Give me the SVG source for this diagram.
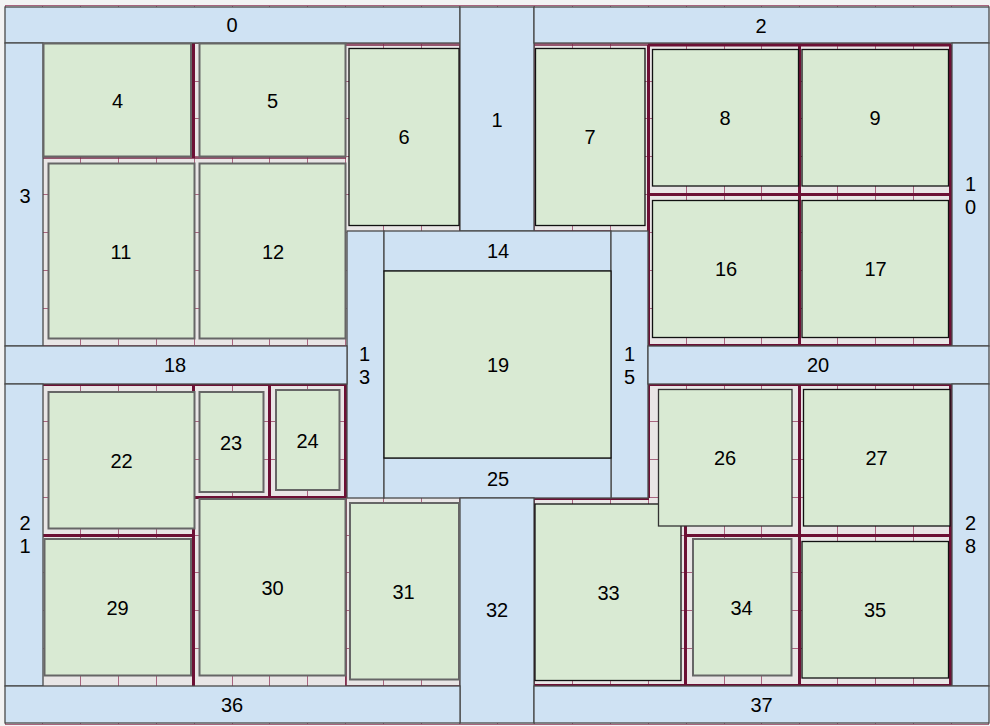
<svg xmlns="http://www.w3.org/2000/svg" width="990" height="726" viewBox="0 0 990 726">
<style>
.bg{fill:#e9e6e6}
.grid{fill:none;stroke:#a8657f;stroke-width:1}
.thick{fill:none;stroke:#6d1035;stroke-width:3}
.mid{fill:none;stroke:#7a2445;stroke-width:1.6}
.cor{fill:#cfe2f3;stroke:#4a4a4a;stroke-width:1.3}
.room{fill:#d9ead3;stroke:#111;stroke-width:1.3}
.roomg{fill:#d9ead3;stroke:#666;stroke-width:2}
text{font-family:"Liberation Sans",Arial,sans-serif;font-size:20px;fill:#000;text-anchor:middle}
</style>
<rect x="0" y="0" width="990" height="726" fill="#f3f3f3"/>
<rect class="bg" x="5" y="5" width="984" height="720"/>
<path class="grid" d="M5.5 5.5V724.5M42.5 5.5V724.5M80.5 5.5V724.5M118.5 5.5V724.5M156.5 5.5V724.5M194.5 5.5V724.5M232.5 5.5V724.5M269.5 5.5V724.5M307.5 5.5V724.5M345.5 5.5V724.5M383.5 5.5V724.5M421.5 5.5V724.5M459.5 5.5V724.5M497.5 5.5V724.5M534.5 5.5V724.5M572.5 5.5V724.5M610.5 5.5V724.5M648.5 5.5V724.5M686.5 5.5V724.5M724.5 5.5V724.5M761.5 5.5V724.5M799.5 5.5V724.5M837.5 5.5V724.5M875.5 5.5V724.5M913.5 5.5V724.5M951.5 5.5V724.5M988.5 5.5V724.5M5 5.5H989M5 43.5H989M5 81.5H989M5 118.5H989M5 156.5H989M5 194.5H989M5 232.5H989M5 270.5H989M5 308.5H989M5 345.5H989M5 383.5H989M5 421.5H989M5 459.5H989M5 497.5H989M5 535.5H989M5 572.5H989M5 610.5H989M5 648.5H989M5 686.5H989M5 724.5H989"/>
<path class="mid" d="M43 158H346M346 45H460V231M534 45H648M534 231H611M346 498V686H460M534 498V686"/>
<path class="thick" d="M193.5 43V158M648.5 45V346M799.5 45V346M950.5 45V346M648 45H951M648 194.5H951M648 345.5H951M43 384.5H346M193.5 384V686M43 535.5H194M269.5 384V497.5M345.5 384V497.5M194 497.5H346M648.5 384V498M685.5 497V686M799.5 384V686M950.5 384V686M648 384.5H951M685 535.5H951M534 498.5H649M534 685.5H951"/>
<g id="connectors"></g>
<g id="n0"><rect class="cor" x="5" y="7" width="455" height="36"/><text x="232" y="32">0</text></g>
<g id="n1"><rect class="cor" x="460" y="7" width="74" height="224"/><text x="497" y="127">1</text></g>
<g id="n2"><rect class="cor" x="534" y="7" width="455" height="36"/><text x="761" y="33">2</text></g>
<g id="n3"><rect class="cor" x="5" y="43" width="38" height="303"/><text x="25" y="203">3</text></g>
<g id="n10"><rect class="cor" x="952" y="43" width="37" height="303"/><text x="970.5" y="191">1</text><text x="970.5" y="214">0</text></g>
<g id="n13"><rect class="cor" x="347" y="231" width="37" height="267"/><text x="364.5" y="361">1</text><text x="364.5" y="384">3</text></g>
<g id="n14"><rect class="cor" x="384" y="231" width="227" height="40"/><text x="498" y="258">14</text></g>
<g id="n15"><rect class="cor" x="611" y="231" width="37" height="267"/><text x="629.5" y="361">1</text><text x="629.5" y="384">5</text></g>
<g id="n18"><rect class="cor" x="5" y="346" width="342" height="38"/><text x="175" y="372">18</text></g>
<g id="n20"><rect class="cor" x="648" y="346" width="341" height="38"/><text x="818" y="372">20</text></g>
<g id="n21"><rect class="cor" x="5" y="384" width="38" height="302"/><text x="25" y="530">2</text><text x="25" y="553">1</text></g>
<g id="n25"><rect class="cor" x="384" y="458" width="227" height="40"/><text x="498" y="486">25</text></g>
<g id="n28"><rect class="cor" x="952" y="384" width="37" height="302"/><text x="970.5" y="530">2</text><text x="970.5" y="553">8</text></g>
<g id="n32"><rect class="cor" x="460" y="498" width="74" height="225"/><text x="497" y="617">32</text></g>
<g id="n36"><rect class="cor" x="5" y="686" width="455" height="37"/><text x="232" y="712">36</text></g>
<g id="n37"><rect class="cor" x="534" y="686" width="455" height="37"/><text x="761.5" y="712">37</text></g>
<g id="n19"><rect class="room" x="384" y="271" width="227" height="187"/><text x="498" y="372">19</text></g>
<g id="n4"><rect class="roomg" x="43.5" y="43.5" width="147.5" height="113"/><text x="117.5" y="108">4</text></g>
<g id="n5"><rect class="roomg" x="199.5" y="43.5" width="146" height="113"/><text x="272.5" y="108">5</text></g>
<g id="n6"><rect class="room" x="349" y="48.5" width="110" height="177"/><text x="404" y="144">6</text></g>
<g id="n7"><rect class="room" x="535.5" y="48.5" width="109.5" height="177"/><text x="590" y="144">7</text></g>
<g id="n8"><rect class="room" x="652.5" y="49.5" width="146" height="136.5"/><text x="725" y="125">8</text></g>
<g id="n9"><rect class="room" x="802" y="49.5" width="146.5" height="136.5"/><text x="875" y="125">9</text></g>
<g id="n11"><rect class="roomg" x="48.5" y="163.5" width="146" height="175"/><text x="121" y="259">11</text></g>
<g id="n12"><rect class="roomg" x="199.5" y="163.5" width="146" height="175"/><text x="273" y="259">12</text></g>
<g id="n16"><rect class="room" x="652.5" y="200.5" width="146" height="137"/><text x="726" y="276">16</text></g>
<g id="n17"><rect class="room" x="802" y="200.5" width="146.5" height="137"/><text x="875.5" y="276">17</text></g>
<g id="n22"><rect class="roomg" x="48.5" y="392" width="146" height="136.5"/><text x="121.5" y="468">22</text></g>
<g id="n23"><rect class="roomg" x="199.5" y="392" width="64" height="100"/><text x="231" y="450">23</text></g>
<g id="n24"><rect class="roomg" x="276" y="390" width="63.5" height="100"/><text x="307.5" y="448">24</text></g>
<g id="n29"><rect class="roomg" x="44.5" y="539" width="146.5" height="136.5"/><text x="117.5" y="614.5">29</text></g>
<g id="n30"><rect class="roomg" x="199.5" y="499" width="146" height="176.5"/><text x="272.5" y="594.5">30</text></g>
<g id="n31"><rect class="roomg" x="350" y="503" width="109" height="176.5"/><text x="403.5" y="598.5">31</text></g>
<g id="n33"><rect class="room" x="535" y="504" width="146" height="176.5"/><text x="608.5" y="599.5">33</text></g>
<g id="n26"><rect class="room" x="658.5" y="389.5" width="133.5" height="136.5" style="stroke:#333"/><text x="725" y="465">26</text></g>
<g id="n27"><rect class="room" x="803.5" y="389.5" width="146.5" height="136.5"/><text x="876.5" y="465">27</text></g>
<g id="n34"><rect class="roomg" x="693" y="539" width="98.5" height="136.5"/><text x="741.5" y="615">34</text></g>
<g id="n35"><rect class="room" x="802" y="541.5" width="146.5" height="136.5"/><text x="875" y="617">35</text></g>
</svg>
